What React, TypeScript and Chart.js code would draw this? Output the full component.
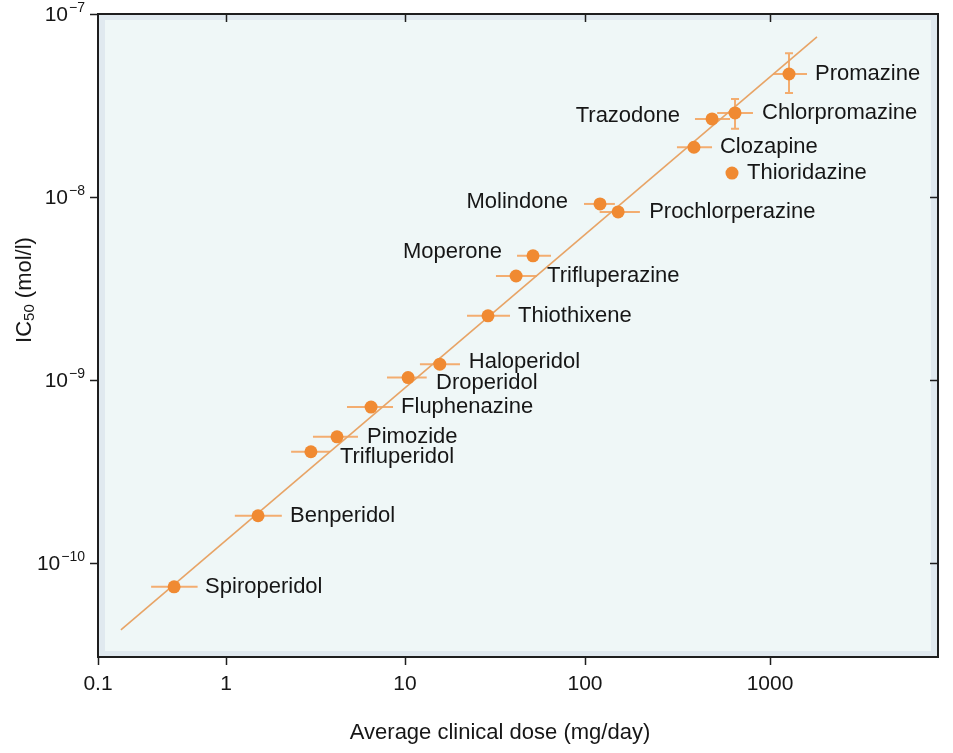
import React, { useEffect, useRef } from 'react';
import { Chart, registerables, LogarithmicScale } from 'chart.js';

Chart.register(...registerables);

// ---- Data ----
const drugNames = [
  'Spiroperidol', 'Benperidol', 'Trifluperidol', 'Pimozide', 'Fluphenazine',
  'Droperidol', 'Haloperidol', 'Thiothixene', 'Trifluperazine', 'Moperone',
  'Molindone', 'Prochlorperazine', 'Clozapine', 'Trazodone', 'Thioridazine',
  'Chlorpromazine', 'Promazine',
];
// average clinical dose (mg/day)
const avgDose = [0.393, 1.51, 2.98, 4.17, 6.46, 10.4, 15.6, 28.9, 41.4, 51.4, 120.5, 151, 388, 486, 623, 647, 1267];
// IC50 (mol/l)
const ic50 = [7.4e-11, 1.81e-10, 4.05e-10, 4.89e-10, 7.11e-10, 1.03e-9, 1.22e-9, 2.24e-9, 3.7e-9, 4.77e-9, 9.16e-9, 8.28e-9, 1.87e-8, 2.67e-8, 1.35e-8, 2.88e-8, 4.7e-8];
// dose range (horizontal error bars)
const doseLow = [0.26, 1.12, 2.31, 3.06, 4.74, 7.93, 12.1, 22.1, 32.0, 41.9, 98.7, 120, 314, 393, null, 518, 1038];
const doseHigh = [0.6, 2.05, 3.81, 5.46, 8.57, 13.2, 20.2, 38.3, 54.1, 64.7, 145, 198, 486, 608, null, 809, 1585];
// IC50 range (vertical error bars)
const ic50Low = [null, null, null, null, null, null, null, null, null, null, null, null, null, null, null, 2.36e-8, 3.7e-8];
const ic50High = [null, null, null, null, null, null, null, null, null, null, null, null, null, null, null, 3.43e-8, 6.1e-8];
// regression line end points
const fitDose = [0.151, 1795];
const fitIC50 = [4.3e-11, 7.49e-8];
// axis ticks
const xTickValues = [0.1, 1, 10, 100, 1000];
const xTickLabels = ['0.1', '1', '10', '100', '1000'];
const yTickValues = [1e-10, 1e-9, 1e-8, 1e-7];
const yTickExponents = ['\u221210', '\u22129', '\u22128', '\u22127'];

// ---- Style: label placement relative to each point [dx, dy]; dx < 0 => text ends left of point ----
const labelOffsets: [number, number][] = [
  [31, 0], [32, 0], [29, 5], [30, 0], [30, 0],
  [28, 5], [29, -2], [30, 0], [31, 0], [-31, -4],
  [-32, -2], [31, 0], [26, 0], [-32, -3], [15, 0],
  [27, 0], [26, 0],
];

const FONT = '"Liberation Sans", Arial, Helvetica, sans-serif';
const POINT_COLOR = '#f08a32';
const BAR_COLOR = '#f3ad70';
const LINE_COLOR = '#e8a466';
const TEXT_COLOR = '#161616';

// The drawn x axis of the reference has unequal decade widths; this scale reproduces them.
const X_KNOT_LOGS = [-1, 0, 1, 2, 3];
const X_KNOT_FRACS = [0, 0.1524, 0.3655, 0.5798, 0.8];

function logToFrac(l: number): number {
  const n = X_KNOT_LOGS.length;
  let i = 0;
  if (l >= X_KNOT_LOGS[n - 1]) i = n - 2;
  else if (l > X_KNOT_LOGS[0]) {
    while (l > X_KNOT_LOGS[i + 1]) i++;
  }
  const l0 = X_KNOT_LOGS[i], l1 = X_KNOT_LOGS[i + 1];
  const f0 = X_KNOT_FRACS[i], f1 = X_KNOT_FRACS[i + 1];
  return f0 + ((l - l0) / (l1 - l0)) * (f1 - f0);
}
function fracToLog(f: number): number {
  const n = X_KNOT_FRACS.length;
  let i = 0;
  if (f >= X_KNOT_FRACS[n - 1]) i = n - 2;
  else if (f > X_KNOT_FRACS[0]) {
    while (f > X_KNOT_FRACS[i + 1]) i++;
  }
  const l0 = X_KNOT_LOGS[i], l1 = X_KNOT_LOGS[i + 1];
  const f0 = X_KNOT_FRACS[i], f1 = X_KNOT_FRACS[i + 1];
  return l0 + ((f - f0) / (f1 - f0)) * (l1 - l0);
}

class DrawnLogScale extends LogarithmicScale {
  static id = 'drawnLog';
  static defaults = LogarithmicScale.defaults;
  getPixelForValue(value: any): number {
    if (value === null || value === undefined || isNaN(value) || value <= 0) return NaN;
    return this.getPixelForDecimal(logToFrac(Math.log10(value)));
  }
  getValueForPixel(pixel: number): number {
    return Math.pow(10, fracToLog(this.getDecimalForPixel(pixel)));
  }
}
Chart.register(DrawnLogScale as any);

const decorPlugin = {
  id: 'decor',
  beforeDraw(chart: any) {
    const { ctx, chartArea: a, width, height } = chart;
    ctx.save();
    ctx.fillStyle = '#ffffff';
    ctx.fillRect(0, 0, width, height);
    ctx.fillStyle = '#e0e9ef';
    ctx.fillRect(a.left, a.top, a.right - a.left, a.bottom - a.top);
    ctx.fillStyle = '#eff7f7';
    ctx.fillRect(a.left + 7, a.top + 6, a.right - a.left - 14, a.bottom - a.top - 12);
    ctx.restore();
  },
  beforeDatasetsDraw(chart: any) {
    const { ctx } = chart;
    const xs = chart.scales.x, ys = chart.scales.y;
    ctx.save();
    ctx.strokeStyle = BAR_COLOR;
    ctx.lineWidth = 2;
    for (let i = 0; i < drugNames.length; i++) {
      const px = xs.getPixelForValue(avgDose[i]);
      const py = ys.getPixelForValue(ic50[i]);
      if (doseLow[i] != null && doseHigh[i] != null) {
        ctx.beginPath();
        ctx.moveTo(xs.getPixelForValue(doseLow[i]), py);
        ctx.lineTo(xs.getPixelForValue(doseHigh[i]), py);
        ctx.stroke();
      }
      if (ic50Low[i] != null && ic50High[i] != null) {
        const y0 = ys.getPixelForValue(ic50Low[i]);
        const y1 = ys.getPixelForValue(ic50High[i]);
        ctx.beginPath();
        ctx.moveTo(px, y0);
        ctx.lineTo(px, y1);
        ctx.moveTo(px - 4, y0);
        ctx.lineTo(px + 4, y0);
        ctx.moveTo(px - 4, y1);
        ctx.lineTo(px + 4, y1);
        ctx.stroke();
      }
    }
    ctx.restore();
  },
  afterDatasetsDraw(chart: any) {
    const { ctx } = chart;
    const xs = chart.scales.x, ys = chart.scales.y;
    ctx.save();
    ctx.font = `22px ${FONT}`;
    ctx.fillStyle = TEXT_COLOR;
    ctx.textBaseline = 'middle';
    for (let i = 0; i < drugNames.length; i++) {
      const px = xs.getPixelForValue(avgDose[i]);
      const py = ys.getPixelForValue(ic50[i]);
      const [dx, dy] = labelOffsets[i];
      ctx.textAlign = dx < 0 ? 'right' : 'left';
      ctx.fillText(drugNames[i], px + dx, py + dy);
    }
    ctx.restore();
  },
  afterDraw(chart: any) {
    const { ctx, chartArea: a } = chart;
    const xs = chart.scales.x, ys = chart.scales.y;
    ctx.save();
    // frame
    ctx.strokeStyle = '#1e1e1e';
    ctx.lineWidth = 2;
    ctx.strokeRect(a.left, a.top, a.right - a.left, a.bottom - a.top);
    // tick marks
    ctx.lineWidth = 1.5;
    ctx.beginPath();
    for (const v of xTickValues) {
      const x = Math.round(xs.getPixelForValue(v)) + 0.5;
      ctx.moveTo(x, a.bottom);
      ctx.lineTo(x, a.bottom + 8);
      if (v !== xTickValues[0]) {
        ctx.moveTo(x, a.top);
        ctx.lineTo(x, a.top + 8);
      }
    }
    for (const v of yTickValues) {
      const y = Math.round(ys.getPixelForValue(v)) + 0.5;
      ctx.moveTo(a.left - 8, y);
      ctx.lineTo(a.left, y);
      if (v !== yTickValues[yTickValues.length - 1]) {
        ctx.moveTo(a.right - 8, y);
        ctx.lineTo(a.right, y);
      }
    }
    ctx.stroke();

    ctx.fillStyle = TEXT_COLOR;
    // x tick labels
    ctx.font = `21px ${FONT}`;
    ctx.textAlign = 'center';
    ctx.textBaseline = 'middle';
    xTickValues.forEach((v, i) => {
      ctx.fillText(xTickLabels[i], xs.getPixelForValue(v), a.bottom + 27);
    });
    // y tick labels 10^n
    yTickValues.forEach((v, i) => {
      const y = ys.getPixelForValue(v);
      const supRight = a.left - 13;
      ctx.font = `14px ${FONT}`;
      ctx.textAlign = 'right';
      const supW = ctx.measureText(yTickExponents[i]).width;
      ctx.fillText(yTickExponents[i], supRight, y - 6);
      ctx.font = `21px ${FONT}`;
      ctx.fillText('10', supRight - supW - 1, y + 1);
    });
    // x title
    ctx.font = `22px ${FONT}`;
    ctx.textAlign = 'center';
    ctx.textBaseline = 'middle';
    ctx.fillText('Average clinical dose (mg/day)', (a.left + a.right) / 2 - 18, a.bottom + 76);
    // y title IC50 (mol/l), rotated
    ctx.translate(31, 290);
    ctx.rotate(-Math.PI / 2);
    ctx.textAlign = 'left';
    ctx.textBaseline = 'alphabetic';
    ctx.font = `22px ${FONT}`;
    const w1 = ctx.measureText('IC').width;
    ctx.font = `15px ${FONT}`;
    const w2 = ctx.measureText('50').width;
    ctx.font = `22px ${FONT}`;
    const w3 = ctx.measureText(' (mol/l)').width;
    let x0 = -(w1 + w2 + w3) / 2;
    ctx.fillText('IC', x0, 0);
    x0 += w1;
    ctx.font = `15px ${FONT}`;
    ctx.fillText('50', x0, 3);
    x0 += w2;
    ctx.font = `22px ${FONT}`;
    ctx.fillText(' (mol/l)', x0, 0);
    ctx.restore();
  },
};

export default function App() {
  const ref = useRef<HTMLCanvasElement>(null);
  useEffect(() => {
    const canvas = ref.current;
    if (!canvas) return;
    const points = drugNames.map((_, i) => ({ x: avgDose[i], y: ic50[i] }));
    const fit = fitDose.map((d, i) => ({ x: d, y: fitIC50[i] }));
    const chart = new Chart(canvas, {
      type: 'scatter',
      data: {
        datasets: [
          {
            label: 'Drugs',
            data: points,
            pointRadius: 6.5,
            pointBackgroundColor: POINT_COLOR,
            pointBorderWidth: 0,
            order: 0,
          },
          {
            label: 'Fit',
            data: fit,
            showLine: true,
            borderColor: LINE_COLOR,
            borderWidth: 1.6,
            pointRadius: 0,
            order: 1,
          } as any,
        ],
      },
      options: {
        responsive: false,
        animation: false,
        devicePixelRatio: 1,
        layout: { padding: { left: 98, top: 14, right: 15, bottom: 96 }, autoPadding: false } as any,
        scales: {
          x: { type: 'drawnLog' as any, min: 0.1, max: 8000, display: false },
          y: { type: 'logarithmic', min: 3.06e-11, max: 1e-7, display: false },
        },
        plugins: { legend: { display: false }, tooltip: { enabled: false } },
        events: [],
      },
      plugins: [decorPlugin],
    });
    return () => chart.destroy();
  }, []);
  return (
    <div style={{ position: 'absolute', left: 0, top: 0, width: 953, height: 753 }}>
      <canvas ref={ref} width={953} height={753} style={{ display: 'block', width: 953, height: 753 }} />
    </div>
  );
}
